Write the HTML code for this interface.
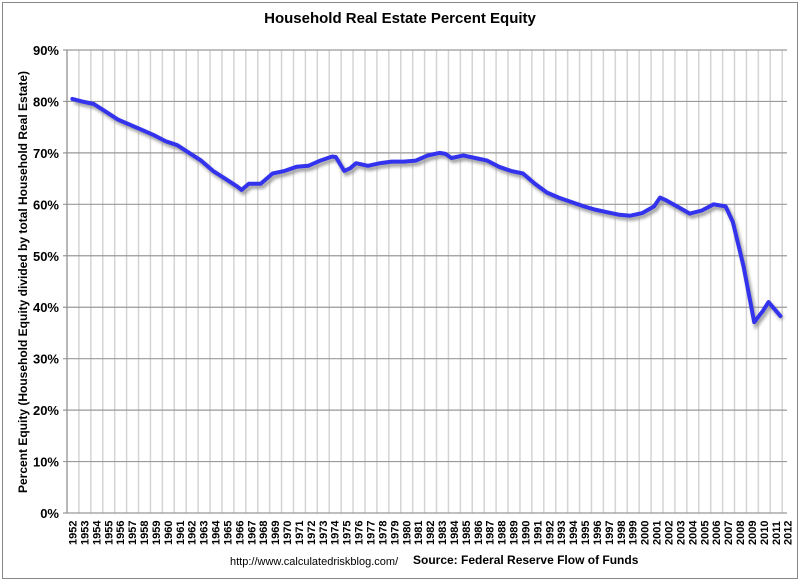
<!DOCTYPE html>
<html><head><meta charset="utf-8"><style>
body{margin:0;background:#fff;}
svg text{font-family:"Liberation Sans",sans-serif;}
</style></head><body>
<svg width="800" height="583" xmlns="http://www.w3.org/2000/svg">
<defs><filter id="sh" x="-5%" y="-5%" width="110%" height="110%"><feGaussianBlur stdDeviation="1.5"/></filter></defs>
<rect x="2.5" y="2.5" width="795" height="576" fill="#fff" stroke="#888" stroke-width="1"/>
<text x="400" y="23" text-anchor="middle" font-size="15" font-weight="bold">Household Real Estate Percent Equity</text>
<g id="grid"></g>
<g id="axes"></g>
<path id="shadow" fill="none" stroke="#999" stroke-width="4" filter="url(#sh)" transform="translate(2,3)"/>
<path id="line" fill="none" stroke="#3333ee" stroke-width="4" stroke-linejoin="round" stroke-linecap="round"/>
<text transform="translate(27,282) rotate(-90)" text-anchor="middle" font-size="12" font-weight="bold">Percent Equity (Household Equity divided by total Household Real Estate)</text>
<text x="230" y="565" font-size="11">http://www.calculatedriskblog.com/</text>
<text x="413" y="564" font-size="12" font-weight="bold">Source: Federal Reserve Flow of Funds</text>
</svg>
<script>
const yTicks=[0,10,20,30,40,50,60,70,80,90];
const years=[];for(let y=1952;y<=2012;y++)years.push(y);
const times=[1952.2,1953,1954,1955,1956,1957,1958,1959,1960,1961,1962,1963,1964,1965,1966,1966.4,1967,1968,1969,1970,1971,1972,1973,1974,1974.3,1975,1975.5,1976,1977,1978,1979,1980,1981,1982,1983,1983.5,1984,1985,1986,1987,1988,1989,1990,1991,1992,1993,1994,1995,1996,1997,1998,1999,2000,2001,2001.5,2002,2003,2004,2005,2006,2007,2007.6,2008.5,2009.4,2010.1,2010.6,2011.6];
const values=[80.5,80,79.5,78,76.5,75.5,74.5,73.5,72.3,71.5,70,68.5,66.5,65,63.5,62.8,64,64,66,66.5,67.3,67.5,68.5,69.3,69.2,66.5,67,68,67.5,68,68.3,68.3,68.5,69.5,70,69.8,69,69.5,69,68.5,67.3,66.5,66,64,62.3,61.3,60.5,59.7,59,58.5,58,57.8,58.3,59.6,61.3,60.8,59.5,58.2,58.8,60,59.6,56.6,48,37.1,39.2,41,38.3];
const L=67,R=787,T=50,B=513;
const sx=t=>L+(t-1952)*11.92+3;
const sy=v=>B-(v/90)*(B-T);
const NS="http://www.w3.org/2000/svg";
const grid=document.getElementById('grid'),axes=document.getElementById('axes');
function mk(tag,attrs,parent){const e=document.createElementNS(NS,tag);for(const k in attrs)e.setAttribute(k,attrs[k]);parent.appendChild(e);return e;}
years.forEach((y,i)=>{
  const x=L+i*11.92;
  const g=mk('line',{x1:x,x2:x,y1:T,y2:B,stroke:'#d4d4d4','stroke-width':1.5},grid);
  
  
  const t=mk('text',{transform:`translate(${x+9.5},${B+32}) rotate(-90)`,'font-size':11,'font-weight':'bold'},axes);
  t.textContent=y;
  
  
});
yTicks.forEach(v=>{
  const y=sy(v);
  const g=mk('line',{x1:L-4,x2:R,y1:y,y2:y,stroke:'#999','stroke-width':1.2},grid);
  
  
  const t=mk('text',{x:L-8,y:y+5,'text-anchor':'end','font-size':13,'font-weight':'bold'},axes);
  t.textContent=v+'%';
  
  
});
const ax=mk('line',{x1:L,x2:L,y1:T,y2:B,stroke:'#888','stroke-width':1},axes);


const d=times.map((t,i)=>(i?'L':'M')+sx(t).toFixed(1)+','+sy(values[i]).toFixed(1)).join(' ');
document.getElementById('line').setAttribute('d',d);
document.getElementById('shadow').setAttribute('d',d);
</script>
</body></html>
